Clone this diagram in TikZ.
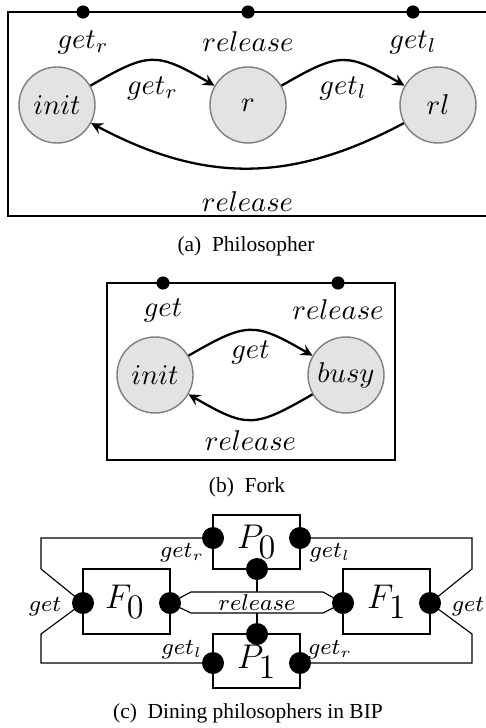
\documentclass[tikz,border=0pt]{standalone}
\usepackage{amsmath}
\usepackage{amssymb}
\usepackage{xcolor}
\usepackage{fontspec}
\setmainfont{Liberation Serif}

\begin{document}
\begin{tikzpicture}[
  x=0.35pt, y=-0.35pt,
  state/.style={circle,draw=gray,fill=gray!22,line width=0.5pt,minimum size=26.6pt,inner sep=0pt,font=\fontsize{10.4}{12}\selectfont},
  port/.style={circle,fill=black,inner sep=0pt,minimum size=4.6pt},
  bport/.style={circle,fill=black,inner sep=0pt,minimum size=7.7pt},
  lbl/.style={font=\fontsize{10.4}{12}\selectfont},
  slbl/.style={font=\fontsize{7.6}{9}\selectfont},
  comp/.style={font=\fontsize{12.5}{14}\selectfont},
  caption/.style={font=\fontsize{7.5}{9}\selectfont},
  trans/.style={->,>=stealth,line width=0.8pt}
]
  \useasboundingbox (0,0) rectangle (485,728);

  % (a) philosopher
  \draw[line width=0.8pt] (490,12) -- (8,12) -- (8,216) -- (490,216);
  \node[port] (pgetr) at (83,12) {};
  \node[port] (prel) at (248,12) {};
  \node[port] (pgetl) at (413,12) {};
  \node[lbl] at (83,42) {$get_r$};
  \node[lbl] at (248,42) {$release$};
  \node[lbl] at (413,42) {$get_l$};
  \node[state] (pinit) at (57,105) {$init$};
  \node[state] (pr) at (248,105) {$r$};
  \node[state] (prl) at (438,105) {$rl$};
  \draw[trans] (pinit) to[bend left=30,looseness=1.4] node[below,lbl,yshift=-2pt] {$get_r$} (pr);
  \draw[trans] (pr) to[bend left=30,looseness=1.4] node[below,lbl,yshift=-2pt] {$get_l$} (prl);
  \draw[trans] (prl) to[bend left=28,looseness=1.05] node[below,lbl,yshift=-4.5pt] {$release$} (pinit);
  \node[caption] at (246,246) {(a)\enspace Philosopher};

  % (b) fork
  \draw[line width=0.8pt] (107,283) rectangle (395,460);
  \node[port] (fget) at (163,283) {};
  \node[port] (frel) at (338,283) {};
  \node[lbl] at (163,310) {$get$};
  \node[lbl] at (338,310) {$release$};
  \node[state] (finit) at (155,375) {$init$};
  \node[state] (fbusy) at (346,375) {$busy$};
  \draw[trans] (finit) to[bend left=30,looseness=1.4] node[below,lbl] {$get$} (fbusy);
  \draw[trans] (fbusy) to[bend left=30,looseness=1.4] node[below,lbl] {$release$} (finit);
  \node[caption] at (247,487) {(b)\enspace Fork};

  % (c) dining philosophers
  \draw[line width=0.4pt] (213,515) rectangle (300,569);
  \draw[line width=0.4pt] (213,634) rectangle (300,688);
  \draw[line width=0.4pt] (83,569) rectangle (170,634);
  \draw[line width=0.4pt] (343,569) rectangle (430,634);
  \node[comp] at (257,542) {$P_{\textstyle 0}$};
  \node[comp] at (257,662) {$P_{\textstyle 1}$};
  \node[comp] at (125,602) {$F_{\textstyle 0}$};
  \node[comp] at (387,602) {$F_{\textstyle 1}$};
  \coordinate (p0getr) at (213,538);
  \coordinate (p0getl) at (300,538);
  \coordinate (p0rel) at (257,569);
  \coordinate (p1rel) at (257,634);
  \coordinate (p1getl) at (213,663);
  \coordinate (p1getr) at (300,663);
  \coordinate (f0get) at (83,603);
  \coordinate (f0rel) at (170,603);
  \coordinate (f1rel) at (343,603);
  \coordinate (f1get) at (430,603);
  % connectors
  \draw[line width=0.4pt] (p0getr) -- (41,538) -- (41,569) -- (f0get);
  \draw[line width=0.4pt] (f0get) -- (41,634) -- (41,663) -- (p1getl);
  \draw[line width=0.4pt] (p0getl) -- (472,538) -- (472,569) -- (f1get);
  \draw[line width=0.4pt] (f1get) -- (472,634) -- (472,663) -- (p1getr);
  \draw[line width=0.4pt] (f0rel) -- (191,592) -- (323,592) -- (f1rel);
  \draw[line width=0.4pt] (f0rel) -- (191,613) -- (323,613) -- (f1rel);
  \draw[line width=0.4pt] (p0rel) -- (257,592);
  \draw[line width=0.4pt] (p1rel) -- (257,613);
  \foreach \p in {p0getr,p0getl,p0rel,p1rel,p1getl,p1getr,f0get,f0rel,f1rel,f1get}
    \node[bport] at (\p) {};
  \node[slbl] at (257,603) {$release$};
  \node[slbl] at (182,553) {$get_r$};
  \node[slbl] at (330,553) {$get_l$};
  \node[slbl] at (45,607) {$get$};
  \node[slbl] at (468,607) {$get$};
  \node[slbl] at (182,650) {$get_l$};
  \node[slbl] at (330,650) {$get_r$};
  \node[caption] at (248,713) {(c)\enspace Dining philosophers in BIP};
\end{tikzpicture}
\end{document}
